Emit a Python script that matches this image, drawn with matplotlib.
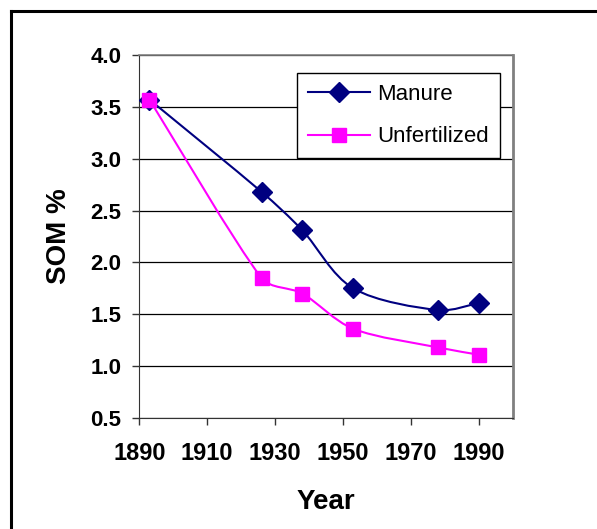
"""
SOM % over time, manure vs unfertilized plots.
"""
import matplotlib.pyplot as plt
from matplotlib.lines import Line2D
from matplotlib.patches import PathPatch
from matplotlib.path import Path
import numpy as np

YEARS = [1893, 1926, 1938, 1953, 1978, 1990]
MANURE = [3.57, 2.68, 2.31, 1.75, 1.54, 1.61]
UNFERTILIZED = [3.57, 1.85, 1.70, 1.36, 1.18, 1.11]
XTICKS = [1890, 1910, 1930, 1950, 1970, 1990]
YTICKS = [0.5, 1.0, 1.5, 2.0, 2.5, 3.0, 3.5, 4.0]

NAVY = "#000080"
MAGENTA = "#ff00ff"

plt.rcParams["font.family"] = ["Liberation Sans", "DejaVu Sans"]


def smooth_path(ax, xs, ys):
    # smoothed line like Excel's: bezier through the points, worked out in pixels
    pts = ax.transData.transform(np.column_stack([xs, ys]).astype(float))
    n = len(pts)
    verts = [pts[0]]
    codes = [Path.MOVETO]
    for i in range(n - 1):
        p0 = pts[max(i - 1, 0)]
        p1 = pts[i]
        p2 = pts[i + 1]
        p3 = pts[min(i + 2, n - 1)]
        seg = np.hypot(*(p2 - p1))
        t1 = (p2 - p0) / 6
        t2 = (p3 - p1) / 6
        # keep the control points from overshooting on short segments
        for t in (t1, t2):
            length = np.hypot(*t)
            if length > seg / 3:
                t *= seg / 3 / length
        verts += [p1 + t1, p2 - t2, p2]
        codes += [Path.CURVE4] * 3
    verts = ax.transData.inverted().transform(np.array(verts))
    return Path(verts, codes)


if __name__ == "__main__":
    fig = plt.figure(figsize=(5.97, 5.29), dpi=100)
    ax = fig.add_axes([0.2333, 0.2098, 0.6260, 0.6862])
    ax.set_xlim(1890, 2000)
    ax.set_ylim(0.5, 4.0)

    for ys, color, marker, size in [
        (MANURE, NAVY, "D", 10),
        (UNFERTILIZED, MAGENTA, "s", 10.5),
    ]:
        ax.add_patch(PathPatch(smooth_path(ax, YEARS, ys), facecolor="none",
                               edgecolor=color, lw=1.5, zorder=5))
        ax.plot(YEARS, ys, linestyle="none", marker=marker, markersize=size,
                color=color, zorder=6)

    ax.set_xticks(XTICKS)
    ax.set_xticklabels([str(x) for x in XTICKS], fontsize=17, fontweight="bold")
    ax.set_yticks(YTICKS)
    ax.set_yticklabels([f"{y:.1f}" for y in YTICKS], fontsize=16, fontweight="bold")
    ax.tick_params(axis="both", direction="out", length=5, width=1, color="#333333")
    ax.tick_params(axis="x", pad=12)
    ax.tick_params(axis="y", pad=8)
    ax.grid(visible=True, axis="y", color="black", lw=0.9)
    ax.set_axisbelow(True)

    ax.spines["left"].set_color("#333333")
    ax.spines["bottom"].set_color("#333333")
    ax.spines["top"].set_color("#808080")
    ax.spines["right"].set_color("#808080")
    ax.spines["right"].set_linewidth(2)
    ax.spines["top"].set_linewidth(1.2)

    ax.set_xlabel("Year", fontsize=20, fontweight="bold", va="center")
    ax.xaxis.set_label_coords(0.5, -0.232)
    ax.set_ylabel("SOM %", fontsize=20, fontweight="bold", va="center")
    ax.yaxis.set_label_coords(-0.216, 0.5)

    handles = [
        Line2D([], [], color=NAVY, lw=1.5, marker="D", markersize=10),
        Line2D([], [], color=MAGENTA, lw=1.5, marker="s", markersize=10.5),
    ]
    leg = ax.legend(handles, ["Manure", "Unfertilized"], loc="upper left",
                    bbox_to_anchor=(0.422, 0.950), borderaxespad=0,
                    fontsize=16, frameon=True, fancybox=False,
                    edgecolor="black", framealpha=1, handlelength=2.8,
                    borderpad=0.5, labelspacing=0.95, handletextpad=0.3)
    leg.get_frame().set_linewidth(1)
    leg.set_zorder(10)

    # outer chart border (left and top visible)
    fig.add_artist(Line2D([11 / 597, 11 / 597], [0, 1 - 11 / 529],
                          color="black", lw=2.2, transform=fig.transFigure))
    fig.add_artist(Line2D([11 / 597, 1], [1 - 11 / 529, 1 - 11 / 529],
                          color="black", lw=2.2, transform=fig.transFigure))

    plt.savefig("out.png", dpi=100)
